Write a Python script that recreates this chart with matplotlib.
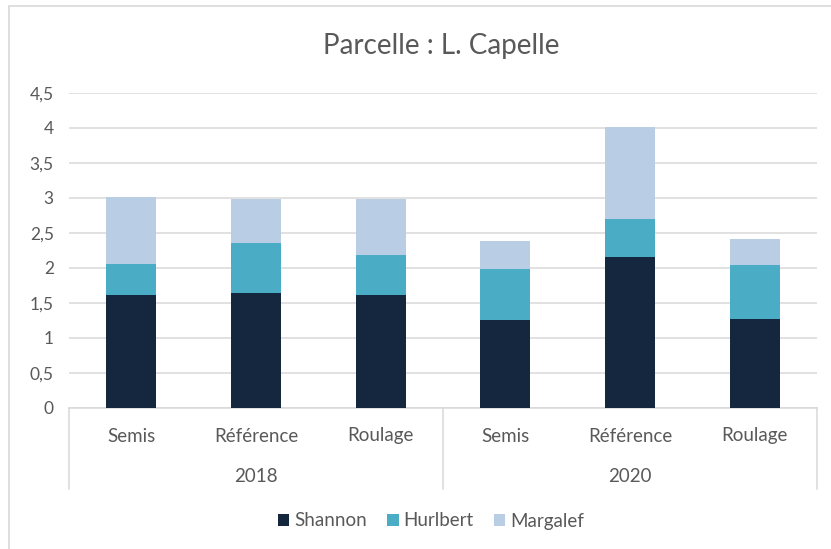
import matplotlib
matplotlib.use("Agg")
import matplotlib.pyplot as plt
from matplotlib.patches import Rectangle
from matplotlib.ticker import FuncFormatter, MultipleLocator
import numpy as np

plt.rcParams['font.family'] = ['Lato', 'DejaVu Sans']

years = ["2018", "2020"]
treatments = ["Semis", "Référence", "Roulage"]
shannon = [1.62, 1.64, 1.62, 1.26, 2.16, 1.27]
hurlbert = [0.44, 0.72, 0.57, 0.72, 0.54, 0.77]
margalef = [0.96, 0.63, 0.79, 0.40, 1.32, 0.37]

series = [("Shannon", shannon, "#14273f"),
          ("Hurlbert", hurlbert, "#4bacc6"),
          ("Margalef", margalef, "#b9cde5")]

W, H = 831, 549
fig = plt.figure(figsize=(W / 100, H / 100), dpi=100)
fig.patches.append(Rectangle((9 / W, -0.1), 1.1, 1 - 6 / H + 0.1, transform=fig.transFigure,
                             fill=False, edgecolor="#d9d9d9", linewidth=1.2))

left, right, top, bottom = 69, 817, 93, 408
ax = fig.add_axes([left / W, 1 - bottom / H, (right - left) / W, (bottom - top) / H])

n = len(shannon)
x = np.arange(n)
base = np.zeros(n)
handles = []
for name, vals, col in series:
    b = ax.bar(x, vals, width=0.4, bottom=base, color=col, label=name, zorder=3)
    handles.append(b)
    base = base + np.array(vals)

ax.set_xlim(-0.5, n - 0.5)
ax.set_ylim(0, 4.5)
ax.yaxis.set_major_locator(MultipleLocator(0.5))
ax.yaxis.set_major_formatter(FuncFormatter(lambda v, p: f"{v:g}".replace(".", ",")))
ax.grid(axis="y", color="#d9d9d9", linewidth=1.1, zorder=0)
for s in ["top", "right", "left"]:
    ax.spines[s].set_visible(False)
ax.spines["bottom"].set_color("#d9d9d9")
ax.spines["bottom"].set_linewidth(1.1)
ax.tick_params(axis="y", length=0, labelsize=12.5, labelcolor="#595959", pad=11)
ax.tick_params(axis="x", length=0, labelbottom=False)

# multi-level category axis
to_ax = lambda py: (bottom - py) / (bottom - top)
for xs in [-0.5, 2.5, 5.5]:
    ax.plot([xs, xs], [0, to_ax(489)], transform=ax.get_xaxis_transform(),
            color="#d9d9d9", linewidth=1.1, clip_on=False)
for i in range(n):
    ax.text(i, to_ax(436), treatments[i % 3], transform=ax.get_xaxis_transform(),
            ha="center", va="center", fontsize=13.5, color="#595959")
for j, yr in enumerate(years):
    ax.text(3 * j + 1, to_ax(476), yr, transform=ax.get_xaxis_transform(),
            ha="center", va="center", fontsize=13.5, color="#595959")

fig.text(441 / W, 1 - 46 / H, "Parcelle : L. Capelle", ha="center", va="center",
         fontsize=20, color="#595959")

fig.legend(handles=handles, loc="center", bbox_to_anchor=(431 / W, 1 - 521 / H),
           ncol=3, frameon=False, fontsize=13.5, labelcolor="#595959",
           handlelength=0.6, handleheight=0.6, handletextpad=0.25, columnspacing=1.1)

fig.savefig("out.png", dpi=100)
